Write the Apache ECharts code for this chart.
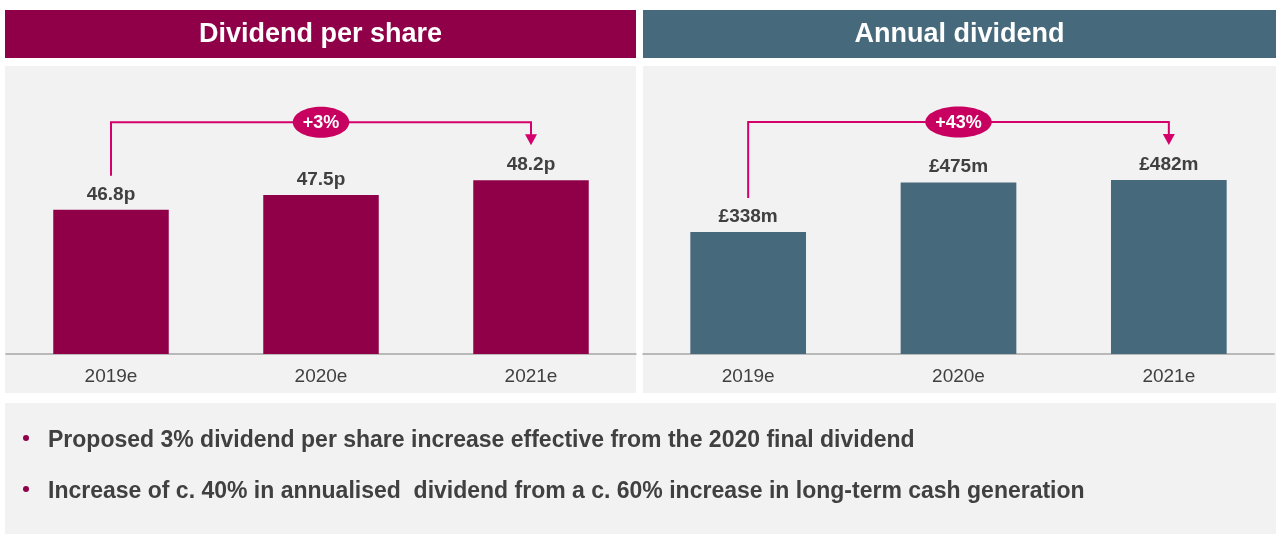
<!DOCTYPE html>
<html>
<head>
<meta charset="utf-8">
<script src="https://cdn.jsdelivr.net/npm/echarts@6/dist/echarts.min.js"></script>
<style>
  html, body { margin: 0; padding: 0; background: #fff; }
  #chart { width: 1276px; height: 535px; }
</style>
</head>
<body>
<div id="chart"></div>
<script>
const years = ['2019e', '2020e', '2021e']
const dpsValues = [46.8, 47.5, 48.2]
const dpsLabels = ['46.8p', '47.5p', '48.2p']
const annualValues = [338, 475, 482]
const annualLabels = ['£338m', '£475m', '£482m']
const growthLabels = ['+3%', '+43%']
const panelTitles = ['Dividend per share', 'Annual dividend']
const bullets = [
  'Proposed 3% dividend per share increase effective from the 2020 final dividend',
  'Increase of c. 40% in annualised  dividend from a c. 60% increase in long-term cash generation',
]

const maroon = '#8f0049'
const slate = '#46697c'
const pink = '#d4006b'
const pill = '#c8005f'
const textColor = '#404040'
const font = '"Liberation Sans", Arial, sans-serif'

const chart = echarts.init(document.getElementById('chart'))

const xAxis = (gridIndex) => ({
  type: 'category',
  gridIndex,
  data: years,
  axisTick: { show: false },
  axisLine: { lineStyle: { color: '#a6a6a6', width: 1.5 } },
  axisLabel: { fontSize: 19, color: textColor, fontFamily: font, margin: 13 },
})

const barSeries = (i, values, labels, color) => ({
  type: 'bar',
  xAxisIndex: i,
  yAxisIndex: i,
  data: values,
  barWidth: '55%',
  itemStyle: { color },
  label: {
    show: true,
    position: 'top',
    distance: 6,
    formatter: (p) => labels[p.dataIndex],
    fontSize: 19,
    fontWeight: 'bold',
    color: textColor,
    fontFamily: font,
  },
})

const boxes = [
  { type: 'rect', shape: { x: 5, y: 10, width: 631, height: 48 }, style: { fill: maroon }, z: -10 },
  { type: 'rect', shape: { x: 643, y: 10, width: 633, height: 48 }, style: { fill: slate }, z: -10 },
  { type: 'rect', shape: { x: 5, y: 66, width: 631, height: 327 }, style: { fill: '#f2f2f2' }, z: -10 },
  { type: 'rect', shape: { x: 643, y: 66, width: 633, height: 327 }, style: { fill: '#f2f2f2' }, z: -10 },
  { type: 'rect', shape: { x: 5, y: 403, width: 1271, height: 131 }, style: { fill: '#f2f2f2' }, z: -10 },
]
panelTitles.forEach((t, i) => {
  boxes.push({
    type: 'text',
    x: i === 0 ? 320.5 : 959.5,
    y: 35,
    style: {
      text: t, fill: '#fff', font: 'bold 27px ' + font,
      textAlign: 'center', textVerticalAlign: 'middle',
    },
  })
})
bullets.forEach((t, i) => {
  const y = 441 + i * 51
  boxes.push({ type: 'circle', shape: { cx: 26, cy: y - 3, r: 3 }, style: { fill: maroon } })
  boxes.push({
    type: 'text', x: 48, y,
    style: { text: t, fill: textColor, font: 'bold 23px ' + font, textVerticalAlign: 'middle' },
  })
})

chart.setOption({
  animation: false,
  grid: [
    { left: 6, width: 630, top: 142, height: 212 },
    { left: 643, width: 631, top: 142, height: 212 },
  ],
  xAxis: [xAxis(0), xAxis(1)],
  yAxis: [
    { type: 'value', gridIndex: 0, min: 40, max: 50, show: false },
    { type: 'value', gridIndex: 1, min: 0, max: 587, show: false },
  ],
  series: [
    barSeries(0, dpsValues, dpsLabels, maroon),
    barSeries(1, annualValues, annualLabels, slate),
  ],
  graphic: boxes,
})

// growth brackets, placed from the bars' pixel positions
const ctx = document.createElement('canvas').getContext('2d')
ctx.font = 'bold 18px ' + font
const brackets = []
;[dpsValues, annualValues].forEach((values, i) => {
  const pts = values.map((v, j) => chart.convertToPixel({ seriesIndex: i }, [j, v]))
  const x1 = pts[0][0]
  const x3 = pts[pts.length - 1][0]
  const topMax = Math.min(...pts.map((p) => p[1]))
  const by = topMax - 58
  const startY = pts[0][1] - 34
  const tipY = topMax - 35
  const rx = ctx.measureText(growthLabels[i]).width / 2 + 10
  brackets.push(
    {
      type: 'polyline',
      shape: { points: [[x1, startY], [x1, by], [x3, by], [x3, tipY - 9]] },
      style: { stroke: pink, lineWidth: 2, fill: null },
    },
    {
      type: 'polygon',
      shape: { points: [[x3 - 6, tipY - 11], [x3 + 6, tipY - 11], [x3, tipY]] },
      style: { fill: pink },
    },
    {
      type: 'ellipse',
      shape: { cx: (x1 + x3) / 2, cy: by, rx, ry: 15.5 },
      style: { fill: pill },
    },
    {
      type: 'text',
      x: (x1 + x3) / 2,
      y: by + 1,
      style: {
        text: growthLabels[i], fill: '#fff', font: 'bold 18px ' + font,
        textAlign: 'center', textVerticalAlign: 'middle',
      },
    }
  )
})
chart.setOption({ graphic: boxes.concat(brackets) })

window.addEventListener('resize', () => {
  chart.resize()
})
</script>
</body>
</html>
